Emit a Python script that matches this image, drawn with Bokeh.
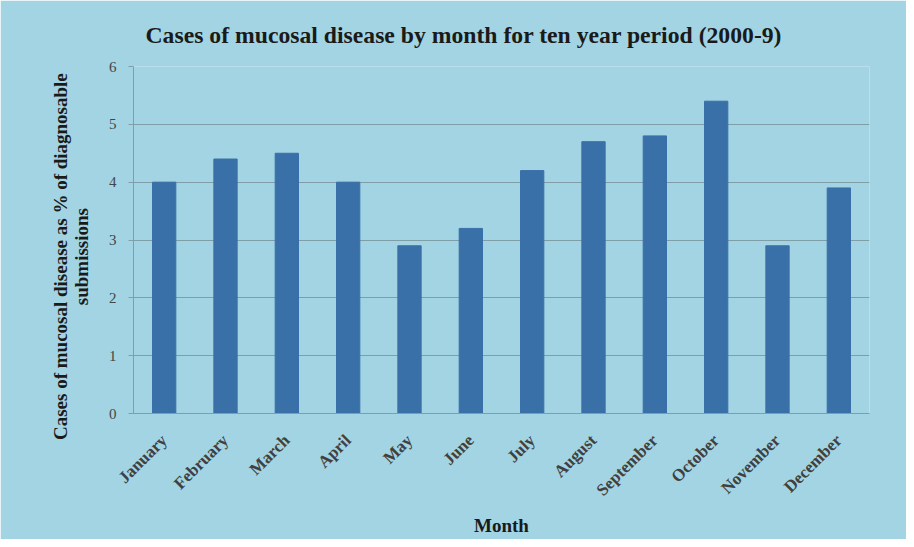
from bokeh.plotting import figure
from bokeh.models import ColumnDataSource, FixedTicker, Title
from bokeh.embed import file_html
from bokeh.resources import INLINE
import math

months = ["January", "February", "March", "April", "May", "June", "July",
          "August", "September", "October", "November", "December"]
percent = [4.0, 4.4, 4.5, 4.0, 2.9, 3.2, 4.2, 4.7, 4.8, 5.4, 2.9, 3.9]
y_ticks = [0, 1, 2, 3, 4, 5, 6]

title_text = "Cases of mucosal disease by month for ten year period (2000-9)"
y_label_lines = ["Cases of mucosal disease as % of diagnosable", "submissions"]
x_label = "Month"

BG = "#A2D4E3"
BAR = "#3A70A8"
GRID = "#7F9EA8"
FONT = "Liberation Serif"
PAD = "\u00a0" * 7  # trailing padding nudges the rotated label downward

source = ColumnDataSource(data=dict(month=months, pct=percent))

p = figure(x_range=months, y_range=(0, 6), width=906, height=539,
           output_backend="svg", toolbar_location=None,
           background_fill_color=BG, border_fill_color=BG,
           min_border_left=133, min_border_right=37,
           min_border_top=66, min_border_bottom=126)
p.outline_line_color = None

p.vbar(x="month", top="pct", width=0.38, source=source,
       fill_color=BAR, line_color=BAR)

t = Title(text=title_text, align="left", offset=12,
          text_font=FONT, text_font_size="23.7px", text_font_style="bold",
          text_color="#1a1a1a", standoff=38)
p.add_layout(t, "above")

p.yaxis.ticker = FixedTicker(ticks=y_ticks)
p.yaxis.major_label_text_font = FONT
p.yaxis.major_label_text_font_size = "15px"
p.yaxis.major_label_text_color = "#454545"
p.yaxis.major_label_standoff = 12
p.yaxis.axis_line_color = GRID
p.yaxis.major_tick_line_color = GRID
p.yaxis.major_tick_in = 0
p.yaxis.major_tick_out = 5
p.yaxis.minor_tick_line_color = None
p.yaxis.axis_label = "\n".join(line + PAD for line in y_label_lines)
p.yaxis.axis_label_text_font = FONT
p.yaxis.axis_label_text_font_size = "19px"
p.yaxis.axis_label_text_font_style = "bold"
p.yaxis.axis_label_text_color = "#1a1a1a"
p.yaxis.axis_label_text_line_height = 1.0
p.yaxis.axis_label_standoff = 14

p.xaxis.major_label_orientation = math.pi / 4
p.xaxis.major_label_text_font = FONT
p.xaxis.major_label_text_font_size = "17px"
p.xaxis.major_label_text_font_style = "bold"
p.xaxis.major_label_text_color = "#404040"
p.xaxis.major_label_standoff = 18
p.xaxis.axis_line_color = GRID
p.xaxis.major_tick_line_color = None
p.xaxis.axis_label = x_label
p.xaxis.axis_label_text_font = FONT
p.xaxis.axis_label_text_font_size = "19px"
p.xaxis.axis_label_text_font_style = "bold"
p.xaxis.axis_label_text_color = "#1a1a1a"
p.xaxis.axis_label_standoff = 6

p.xgrid.grid_line_color = None
p.ygrid.grid_line_color = GRID
p.ygrid.grid_line_width = 1

open("out.html", "w").write(file_html(p, INLINE))
